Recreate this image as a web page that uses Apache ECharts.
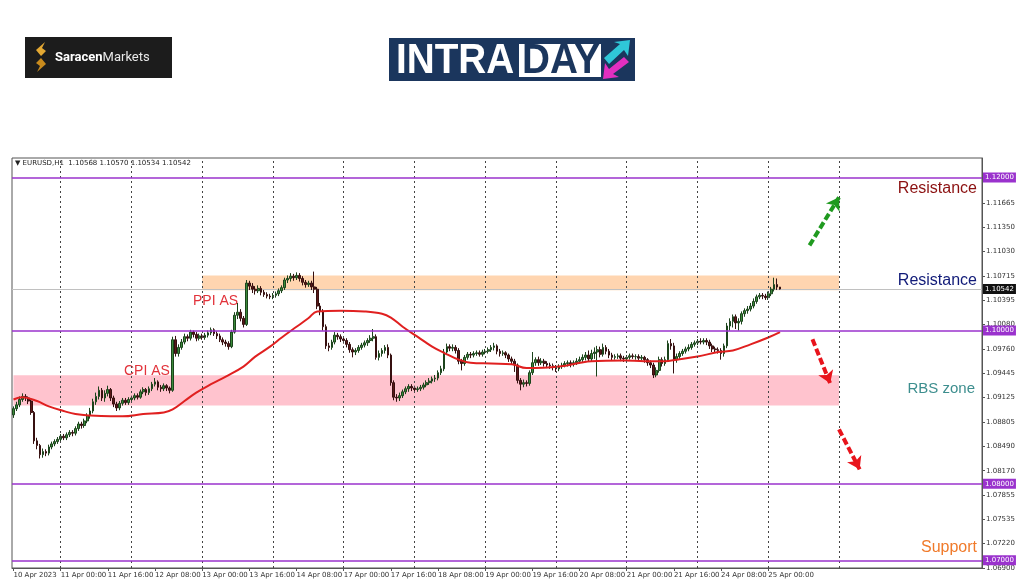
<!DOCTYPE html>
<html><head><meta charset="utf-8">
<script src="https://cdn.jsdelivr.net/npm/echarts@6/dist/echarts.min.js"></script>
<style>html,body{margin:0;padding:0;background:#fff}#c{width:1024px;height:587px}</style>
</head><body><div id="c"></div>
<script>
// ---- DATA ----
// x tick labels, one every 16 hourly bars
const tickLabels = ['10 Apr 2023','11 Apr 00:00','11 Apr 16:00','12 Apr 08:00','13 Apr 00:00','13 Apr 16:00','14 Apr 08:00','17 Apr 00:00','17 Apr 16:00','18 Apr 08:00','19 Apr 00:00','19 Apr 16:00','20 Apr 08:00','21 Apr 00:00','21 Apr 16:00','24 Apr 08:00','25 Apr 00:00'];
// bar indices where days start (period separators)
const daySeparators = [16,40,64,88,112,136,160,184,208,232,256,280];
// right axis tick labels
const yTicks = [1.06900,1.07220,1.07535,1.07855,1.08170,1.08490,1.08805,1.09125,1.09445,1.09760,1.10080,1.10395,1.10715,1.11030,1.11350,1.11665];
const levels = [1.12000,1.10000,1.08000,1.07000];
const lastPrice = 1.10542;
const header = '\u25BC EURUSD,H1  1.10568 1.10570 1.10534 1.10542';
// EURUSD H1 candles: [open, close, low, high]
const candles = [
[1.0890,1.0898,1.0886,1.0901],[1.0898,1.0903,1.0895,1.0907],[1.0903,1.0910,1.0900,1.0914],[1.0910,1.0914,1.0907,1.0918],
[1.0914,1.0912,1.0908,1.0917],[1.0912,1.0908,1.0904,1.0914],[1.0908,1.0893,1.0890,1.0910],[1.0893,1.0856,1.0852,1.0895],
[1.0856,1.0850,1.0845,1.0860],[1.0850,1.0838,1.0833,1.0852],[1.0838,1.0842,1.0834,1.0846],[1.0842,1.0840,1.0836,1.0845],
[1.0840,1.0848,1.0837,1.0851],[1.0848,1.0852,1.0845,1.0855],[1.0852,1.0855,1.0849,1.0858],[1.0855,1.0858,1.0852,1.0861],
[1.0858,1.0862,1.0855,1.0865],[1.0862,1.0860,1.0857,1.0865],[1.0860,1.0864,1.0857,1.0867],[1.0864,1.0867,1.0861,1.0870],
[1.0867,1.0866,1.0862,1.0870],[1.0866,1.0872,1.0863,1.0875],[1.0872,1.0878,1.0869,1.0881],[1.0878,1.0876,1.0872,1.0881],
[1.0876,1.0882,1.0873,1.0885],[1.0882,1.0889,1.0879,1.0892],[1.0889,1.0895,1.0885,1.0899],[1.0895,1.0907,1.0892,1.0911],
[1.0907,1.0914,1.0903,1.0919],[1.0914,1.0922,1.0910,1.0927],[1.0922,1.0912,1.0908,1.0925],[1.0912,1.0918,1.0907,1.0922],
[1.0918,1.0923,1.0914,1.0928],[1.0923,1.0912,1.0908,1.0925],[1.0912,1.0904,1.0900,1.0915],[1.0904,1.0899,1.0895,1.0907],
[1.0899,1.0905,1.0896,1.0908],[1.0905,1.0909,1.0902,1.0912],[1.0909,1.0906,1.0903,1.0912],[1.0906,1.0910,1.0903,1.0913],
[1.0910,1.0912,1.0907,1.0915],[1.0912,1.0915,1.0909,1.0918],[1.0915,1.0913,1.0910,1.0918],[1.0913,1.0920,1.0911,1.0923],
[1.0920,1.0923,1.0917,1.0926],[1.0923,1.0919,1.0915,1.0925],[1.0919,1.0924,1.0916,1.0927],[1.0924,1.0930,1.0921,1.0933],
[1.0930,1.0933,1.0927,1.0938],[1.0933,1.0926,1.0922,1.0935],[1.0926,1.0924,1.0920,1.0929],[1.0924,1.0928,1.0921,1.0931],
[1.0928,1.0925,1.0921,1.0930],[1.0925,1.0922,1.0918,1.0927],[1.0922,1.0988,1.0920,1.0992],[1.0988,1.0970,1.0966,1.0993],
[1.0970,1.0978,1.0966,1.0982],[1.0978,1.0985,1.0975,1.0989],[1.0985,1.0992,1.0982,1.0996],[1.0992,1.0990,1.0986,1.0995],
[1.0990,1.0998,1.0987,1.1001],[1.0998,1.0995,1.0991,1.1000],[1.0995,1.0990,1.0986,1.0998],[1.0990,1.0993,1.0987,1.0996],
[1.0993,1.0991,1.0988,1.0996],[1.0991,1.0994,1.0988,1.0997],[1.0994,1.0997,1.0991,1.1000],[1.0997,1.1001,1.0994,1.1004],
[1.1001,1.0996,1.0993,1.1003],[1.0996,1.0993,1.0989,1.0999],[1.0993,1.0988,1.0985,1.0996],[1.0988,1.0985,1.0981,1.0991],
[1.0985,1.0983,1.0979,1.0988],[1.0983,1.0979,1.0975,1.0986],[1.0979,1.0998,1.0977,1.1001],[1.0998,1.1020,1.0996,1.1024],
[1.1020,1.1024,1.1015,1.1036],[1.1024,1.1016,1.1012,1.1028],[1.1016,1.1008,1.1004,1.1019],[1.1008,1.1062,1.1006,1.1066],
[1.1062,1.1058,1.1053,1.1065],[1.1058,1.1054,1.1049,1.1062],[1.1054,1.1052,1.1047,1.1058],[1.1052,1.1055,1.1049,1.1059],
[1.1055,1.1050,1.1046,1.1058],[1.1050,1.1047,1.1044,1.1053],[1.1047,1.1045,1.1042,1.1050],[1.1045,1.1044,1.1041,1.1048],
[1.1044,1.1046,1.1041,1.1049],[1.1046,1.1048,1.1043,1.1051],[1.1048,1.1052,1.1045,1.1055],[1.1052,1.1056,1.1049,1.1059],
[1.1056,1.1066,1.1053,1.1069],[1.1066,1.1068,1.1062,1.1072],[1.1068,1.1071,1.1064,1.1075],[1.1071,1.1069,1.1065,1.1074],
[1.1069,1.1072,1.1066,1.1076],[1.1072,1.1068,1.1064,1.1075],[1.1068,1.1063,1.1059,1.1071],[1.1063,1.1060,1.1056,1.1066],
[1.1060,1.1062,1.1057,1.1065],[1.1062,1.1057,1.1053,1.1065],[1.1057,1.1054,1.1049,1.1077],[1.1054,1.1032,1.1028,1.1057],
[1.1032,1.1025,1.1020,1.1036],[1.1025,1.1005,1.1000,1.1028],[1.1005,1.0980,1.0976,1.1008],[1.0980,1.0978,1.0973,1.0984],
[1.0978,1.0985,1.0975,1.0988],[1.0985,1.0994,1.0982,1.0998],[1.0994,1.0992,1.0988,1.0997],[1.0992,1.0989,1.0985,1.0995],
[1.0989,1.0987,1.0983,1.0992],[1.0987,1.0982,1.0978,1.0990],[1.0982,1.0975,1.0971,1.0985],[1.0975,1.0972,1.0965,1.0978],
[1.0972,1.0974,1.0968,1.0977],[1.0974,1.0978,1.0971,1.0981],[1.0978,1.0981,1.0975,1.0984],[1.0981,1.0984,1.0978,1.0987],
[1.0984,1.0987,1.0980,1.0990],[1.0987,1.0990,1.0984,1.0994],[1.0990,1.0992,1.0986,1.1002],[1.0992,1.0965,1.0962,1.0995],
[1.0965,1.0970,1.0961,1.0974],[1.0970,1.0974,1.0966,1.0977],[1.0974,1.0978,1.0970,1.0981],[1.0978,1.0968,1.0964,1.0982],
[1.0968,1.0932,1.0928,1.0970],[1.0932,1.0913,1.0909,1.0935],[1.0913,1.0912,1.0907,1.0917],[1.0912,1.0915,1.0908,1.0919],
[1.0915,1.0920,1.0912,1.0923],[1.0920,1.0924,1.0917,1.0927],[1.0924,1.0927,1.0920,1.0930],[1.0927,1.0925,1.0921,1.0930],
[1.0925,1.0923,1.0919,1.0928],[1.0923,1.0924,1.0920,1.0927],[1.0924,1.0926,1.0921,1.0929],[1.0926,1.0929,1.0923,1.0932],
[1.0929,1.0932,1.0926,1.0935],[1.0932,1.0934,1.0929,1.0938],[1.0934,1.0937,1.0931,1.0940],[1.0937,1.0938,1.0933,1.0942],
[1.0938,1.0945,1.0935,1.0948],[1.0945,1.0950,1.0942,1.0954],[1.0950,1.0972,1.0947,1.0976],[1.0972,1.0979,1.0969,1.0983],
[1.0979,1.0977,1.0973,1.0982],[1.0977,1.0978,1.0973,1.0982],[1.0978,1.0974,1.0970,1.0981],[1.0974,1.0960,1.0956,1.0977],
[1.0960,1.0957,1.0948,1.0963],[1.0957,1.0965,1.0954,1.0968],[1.0965,1.0969,1.0962,1.0972],[1.0969,1.0968,1.0964,1.0972],
[1.0968,1.0970,1.0965,1.0973],[1.0970,1.0971,1.0967,1.0974],[1.0971,1.0969,1.0966,1.0974],[1.0969,1.0972,1.0966,1.0975],
[1.0972,1.0973,1.0969,1.0976],[1.0973,1.0975,1.0970,1.0978],[1.0975,1.0978,1.0972,1.0981],[1.0978,1.0980,1.0974,1.0984],
[1.0980,1.0973,1.0969,1.0982],[1.0973,1.0970,1.0966,1.0976],[1.0970,1.0971,1.0967,1.0974],[1.0971,1.0968,1.0964,1.0973],
[1.0968,1.0963,1.0959,1.0970],[1.0963,1.0960,1.0956,1.0966],[1.0960,1.0955,1.0946,1.0963],[1.0955,1.0935,1.0931,1.0957],
[1.0935,1.0930,1.0922,1.0938],[1.0930,1.0932,1.0926,1.0936],[1.0932,1.0931,1.0927,1.0935],[1.0931,1.0945,1.0928,1.0948],
[1.0945,1.0958,1.0942,1.0972],[1.0958,1.0962,1.0954,1.0965],[1.0962,1.0958,1.0954,1.0966],[1.0958,1.0960,1.0955,1.0964],
[1.0960,1.0957,1.0953,1.0963],[1.0957,1.0955,1.0951,1.0960],[1.0955,1.0954,1.0950,1.0958],[1.0954,1.0952,1.0948,1.0957],
[1.0952,1.0950,1.0946,1.0955],[1.0950,1.0953,1.0947,1.0956],[1.0953,1.0955,1.0950,1.0958],[1.0955,1.0957,1.0952,1.0960],
[1.0957,1.0958,1.0953,1.0961],[1.0958,1.0956,1.0952,1.0961],[1.0956,1.0958,1.0953,1.0961],[1.0958,1.0960,1.0955,1.0964],
[1.0960,1.0962,1.0957,1.0966],[1.0962,1.0965,1.0958,1.0969],[1.0965,1.0968,1.0961,1.0972],[1.0968,1.0963,1.0959,1.0974],
[1.0963,1.0970,1.0960,1.0975],[1.0970,1.0972,1.0963,1.0978],[1.0972,1.0975,1.0940,1.0980],[1.0975,1.0969,1.0965,1.0979],
[1.0969,1.0978,1.0966,1.0983],[1.0978,1.0973,1.0969,1.0981],[1.0973,1.0968,1.0964,1.0976],[1.0968,1.0965,1.0961,1.0971],
[1.0965,1.0966,1.0962,1.0969],[1.0966,1.0967,1.0963,1.0970],[1.0967,1.0964,1.0960,1.0970],[1.0964,1.0963,1.0959,1.0967],
[1.0963,1.0965,1.0960,1.0968],[1.0965,1.0967,1.0962,1.0970],[1.0967,1.0966,1.0963,1.0970],[1.0966,1.0966,1.0962,1.0969],
[1.0966,1.0964,1.0961,1.0969],[1.0964,1.0965,1.0961,1.0968],[1.0965,1.0962,1.0958,1.0967],[1.0962,1.0958,1.0954,1.0964],
[1.0958,1.0955,1.0951,1.0961],[1.0955,1.0942,1.0938,1.0958],[1.0942,1.0948,1.0939,1.0952],[1.0948,1.0962,1.0945,1.0966],
[1.0962,1.0957,1.0953,1.0965],[1.0957,1.0962,1.0954,1.0966],[1.0962,1.0983,1.0959,1.0987],[1.0983,1.0980,1.0975,1.0989],
[1.0980,1.0962,1.0944,1.0984],[1.0962,1.0966,1.0958,1.0970],[1.0966,1.0970,1.0963,1.0973],[1.0970,1.0973,1.0967,1.0976],
[1.0973,1.0976,1.0970,1.0979],[1.0976,1.0978,1.0973,1.0982],[1.0978,1.0982,1.0975,1.0985],[1.0982,1.0984,1.0979,1.0987],
[1.0984,1.0986,1.0981,1.0989],[1.0986,1.0985,1.0982,1.0990],[1.0985,1.0987,1.0982,1.0990],[1.0987,1.0985,1.0981,1.0990],
[1.0985,1.0980,1.0976,1.0988],[1.0980,1.0976,1.0972,1.0983],[1.0976,1.0975,1.0971,1.0979],[1.0975,1.0974,1.0970,1.0978],
[1.0974,1.0970,1.0962,1.0977],[1.0970,1.0980,1.0966,1.0983],[1.0980,1.1006,1.0977,1.1010],[1.1006,1.1012,1.1000,1.1016],
[1.1012,1.1018,1.1004,1.1021],[1.1018,1.1010,1.1002,1.1021],[1.1010,1.1012,1.1000,1.1016],[1.1012,1.1022,1.1008,1.1025],
[1.1022,1.1026,1.1018,1.1029],[1.1026,1.1028,1.1022,1.1032],[1.1028,1.1032,1.1025,1.1036],[1.1032,1.1038,1.1029,1.1042],
[1.1038,1.1044,1.1035,1.1047],[1.1044,1.1046,1.1041,1.1049],[1.1046,1.1045,1.1041,1.1049],[1.1045,1.1043,1.1040,1.1048],
[1.1043,1.1048,1.1040,1.1051],[1.1048,1.1054,1.1045,1.1057],[1.1054,1.1060,1.1051,1.1069],[1.1060,1.10568,1.1053,1.1068],
[1.10568,1.10542,1.10534,1.10570]
];
// moving average: [bar index, value]
const maPoints = [[0,1.0910],[3,1.0913],[8,1.0908],[12,1.0901],[17,1.0895],[21,1.0891],[26,1.0889],[33,1.0888],[37,1.0888],
[44,1.0891],[51,1.0893],[54,1.0897],[58,1.0908],[62,1.0919],[67,1.0930],[72,1.0940],[78,1.0953],[82,1.0966],[87,1.0979],
[91,1.0991],[96,1.1005],[100,1.1016],[103,1.1025],[111,1.1026],[119,1.1025],[125,1.1022],[128,1.1017],[132,1.1005],
[137,1.0992],[142,1.0979],[146,1.0971],[151,1.0962],[155,1.0958],[162,1.0957],[169,1.0956],[174,1.0951],[185,1.0953],
[196,1.0960],[207,1.0961],[214,1.0960],[221,1.0960],[225,1.0962],[232,1.0966],[239,1.0972],[244,1.0974],[250,1.0982],
[256,1.0991],[260,1.0998]];
const totalBars = 329; // chart width incl. empty future space
const categories = [];
for (let i = 0; i < totalBars; i++) categories.push(i);

// ---- CHART ----
const chart = echarts.init(document.getElementById('c'), null, {renderer: 'canvas'});
const FONT = 'DejaVu Sans';
const purple = '#9a32cd';

const boxLabel = (txt, bg) => ({show: true, position: 'end', distance: 1, formatter: txt, color: '#fff',
  backgroundColor: bg, fontSize: 7, fontFamily: FONT, padding: [2, 2, 1, 2]});
const levelLines = levels.map(v => ({
  yAxis: v, lineStyle: {color: purple, width: 1.5, type: 'solid'}, label: boxLabel(v.toFixed(5), purple)
}));
const sepLines = daySeparators.map(i => ({
  xAxis: i, lineStyle: {color: '#444', width: 1, type: [2, 3]}, label: {show: false}
}));
const arrowDefs = [
  {from: [270, 1.11112], to: [279.5, 1.11739], color: '#1f9a1f'},
  {from: [271, 1.09885], to: [276.6, 1.09311], color: '#e8141c'},
  {from: [280.4, 1.08710], to: [286.5, 1.08188], color: '#e8141c'}
];

const option = {
  animation: false,
  backgroundColor: '#fff',
  grid: {left: 12, right: 42, top: 158, bottom: 19, show: true, borderColor: '#555', borderWidth: 1, backgroundColor: 'transparent'},
  xAxis: {
    type: 'category', data: categories, boundaryGap: true,
    axisLine: {lineStyle: {color: '#555'}},
    axisTick: {show: true, alignWithLabel: true, length: 3, lineStyle: {color: '#555'},
      interval: (i) => i % 16 === 0 && i <= 256},
    axisLabel: {interval: (i) => i % 16 === 0 && i <= 256, formatter: (v, i) => tickLabels[i / 16] || '',
      fontSize: 7, color: '#333', fontFamily: FONT, align: 'left', margin: 4},
    splitLine: {show: false}
  },
  yAxis: {
    type: 'value', position: 'right', min: 1.069, max: 1.12253, scale: true,
    axisLine: {show: true, lineStyle: {color: '#555'}},
    axisTick: {show: true, length: 3, customValues: yTicks, lineStyle: {color: '#555'}},
    axisLabel: {customValues: yTicks, formatter: (v) => v.toFixed(5), fontSize: 7, color: '#333', fontFamily: FONT, margin: 4},
    splitLine: {show: false}
  },
  series: [
    {
      type: 'candlestick', data: candles, barWidth: 2.2, z: 3,
      itemStyle: {color: '#3a8a3a', color0: '#5a1818', borderColor: '#1c441c', borderColor0: '#361010', borderWidth: 1},
      markArea: {silent: true, z: 1, data: [
        [{xAxis: 64, yAxis: 1.10525, itemStyle: {color: '#ffd5b0'}}, {xAxis: 280, yAxis: 1.10720}],
        [{xAxis: 0, yAxis: 1.09022, itemStyle: {color: '#ffc3ce'}}, {xAxis: 280, yAxis: 1.09415}]
      ]},
      markLine: {silent: true, symbol: 'none', precision: 5, animation: false, data: [...sepLines, ...levelLines]}
    },
    {
      type: 'line', data: maPoints, smooth: 0.4, symbol: 'none', z: 4,
      lineStyle: {color: '#e02020', width: 2},
      markLine: {silent: true, symbol: 'none', precision: 5, animation: false, z: 2, data: [
        {yAxis: lastPrice, lineStyle: {color: '#c0c0c0', width: 1, type: 'solid'}, label: boxLabel(lastPrice.toFixed(5), '#111')}
      ]}
    },
    {
      type: 'line', data: [], symbol: 'none', z: 5,
      markLine: {silent: true, symbol: ['none', 'arrow'], symbolSize: [12, 12], precision: 5, animation: false, label: {show: false},
        data: arrowDefs.map(a => [
          {coord: a.from, lineStyle: {color: a.color, width: 4, type: [7, 3]}, itemStyle: {color: a.color}},
          {coord: a.to}
        ])
      }
    }
  ],
  graphic: [
    // header
    {type: 'text', x: 15, y: 163, style: {text: header, fontSize: 7, fontFamily: FONT, fill: '#222', textVerticalAlign: 'middle'}},
    // Saracen logo
    {type: 'rect', shape: {x: 25, y: 37, width: 147, height: 41}, style: {fill: '#1c1c1c'}},
    {type: 'polygon', shape: {points: [[45,42],[36,50],[41,56],[46,51],[42,48]]}, style: {fill: '#e3a833'}},
    {type: 'polygon', shape: {points: [[37,72],[46,64],[41,58],[36,63],[40,66]]}, style: {fill: '#c88a1d'}},
    {type: 'text', x: 55, y: 58, style: {text: '{b|Saracen}{n|Markets}', textVerticalAlign: 'middle',
      rich: {b: {fontSize: 13, fontWeight: 'bold', fill: '#fff', fontFamily: 'Roboto'}, n: {fontSize: 13, fill: '#e8e8e8', fontFamily: 'Roboto'}}}},
    // INTRADAY logo
    {type: 'rect', shape: {x: 389, y: 38, width: 246, height: 43}, style: {fill: '#1b365d'}},
    {type: 'rect', shape: {x: 519, y: 44, width: 82, height: 33}, style: {fill: '#ffffff'}},
    {type: 'text', x: 396, y: 61, scaleX: 0.9, style: {text: 'INTRA', fontSize: 43, fontWeight: 'bold', fontFamily: 'Liberation Sans', fill: '#fff', textVerticalAlign: 'middle'}},
    {type: 'text', x: 522, y: 61, scaleX: 0.9, style: {text: 'DAY', fontSize: 43, fontWeight: 'bold', fontFamily: 'Liberation Sans', fill: '#1b365d', textVerticalAlign: 'middle'}},
    {type: 'polygon', shape: {points: [[604,58],[620,44],[614,42],[630,40],[628,56],[624,50],[609,64]]}, style: {fill: '#2fc7d8'}},
    {type: 'polygon', shape: {points: [[629,62],[613,74],[619,77],[603,79],[605,63],[609,69],[624,57]]}, style: {fill: '#e22fc0'}},
    // annotations
    {type: 'text', x: 977, y: 189, style: {text: 'Resistance', fontSize: 16, fontFamily: 'Liberation Sans', fill: '#8b1010', textAlign: 'right', textVerticalAlign: 'middle'}},
    {type: 'text', x: 977, y: 281, style: {text: 'Resistance', fontSize: 16, fontFamily: 'Liberation Sans', fill: '#101a78', textAlign: 'right', textVerticalAlign: 'middle'}},
    {type: 'text', x: 975, y: 389, style: {text: 'RBS zone', fontSize: 15, fontFamily: 'Liberation Sans', fill: '#3d8e8e', textAlign: 'right', textVerticalAlign: 'middle'}},
    {type: 'text', x: 977, y: 548, style: {text: 'Support', fontSize: 16, fontFamily: 'Liberation Sans', fill: '#f07a2a', textAlign: 'right', textVerticalAlign: 'middle'}},
    {type: 'text', x: 193, y: 301, style: {text: 'PPI AS', fontSize: 14, fontFamily: 'Liberation Sans', fill: '#e2323a', textVerticalAlign: 'middle'}},
    {type: 'text', x: 124, y: 371, style: {text: 'CPI AS', fontSize: 14, fontFamily: 'Liberation Sans', fill: '#e2323a', textVerticalAlign: 'middle'}}
  ]
};
chart.setOption(option);
</script>
</body></html>
